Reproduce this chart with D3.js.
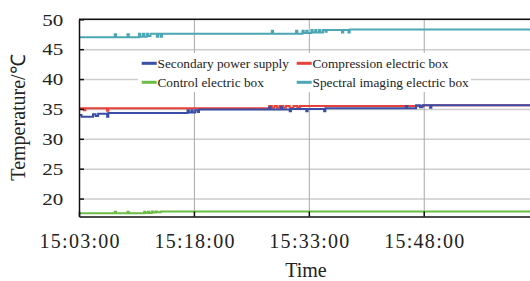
<!DOCTYPE html>
<html>
<head>
<meta charset="utf-8">
<script src="https://cdn.jsdelivr.net/npm/d3@7"></script>
<style>
body { margin: 0; background: #fff; }
svg { display: block; }
text { font-family: "Liberation Serif", "Times New Roman", serif; fill: #222; }
</style>
</head>
<body>
<div id="chart"></div>
<script>
// data
var seriesNames = ["Secondary power supply", "Compression electric box", "Control electric box", "Spectral imaging electric box"];
var seriesColors = ["#3a4ea6", "#e8403a", "#6cbd45", "#4ba7b3"];
var xTickLabels = ["15:03:00", "15:18:00", "15:33:00", "15:48:00"];
var yTickValues = [20, 25, 30, 35, 40, 45, 50];
var timeRange = ["15:03:00", "16:02:00"];

var secondaryTimes = ["15:03:00","15:03:20","15:04:50","15:05:10","15:05:30","15:06:40","15:06:50","15:17:10","15:17:20","15:17:40","15:17:50","15:18:10","15:18:30","15:18:40","15:27:50","15:28:00","15:29:20","15:29:30","15:30:30","15:30:40","15:32:40","15:32:50","15:35:00","15:35:10","15:45:40","15:45:50","15:47:00","15:47:30","15:47:50","15:48:50","15:49:00","16:02:00"];
var secondaryTemps = [34.0,33.7,34.1,33.8,34.2,33.7,34.3,34.8,34.4,34.8,34.4,34.8,34.5,34.9,35.3,34.9,35.3,34.9,34.6,35.0,34.6,35.0,34.6,35.1,35.5,35.1,35.6,35.3,35.6,35.2,35.6,35.6];

var compressionTimes = ["15:03:00","15:03:40","15:03:50","15:06:40","15:06:50","15:27:50","15:28:10","15:28:30","15:28:50","15:29:10","15:29:40","15:30:00","15:30:30","15:31:00","15:31:30","15:31:50","15:48:00","16:02:00"];
var compressionTemps = [35.1,34.8,35.1,34.7,35.1,35.5,35.2,35.5,35.2,35.5,35.2,35.5,35.2,35.5,35.3,35.5,35.6,35.6];

var controlTimes = ["15:03:00","15:07:40","15:07:50","15:09:20","15:09:30","15:11:30","15:11:40","15:12:00","15:12:10","15:12:30","15:12:40","15:13:00","15:13:10","15:13:40","16:02:00"];
var controlTemps = [17.55,17.8,17.55,17.8,17.55,17.8,17.6,17.8,17.6,17.85,17.65,17.85,17.7,17.85,17.85];

var spectralTimes = ["15:03:00","15:07:40","15:07:50","15:09:20","15:09:30","15:10:50","15:11:00","15:11:20","15:11:30","15:11:50","15:12:00","15:12:20","15:13:10","15:13:20","15:13:40","15:13:50","15:28:10","15:28:20","15:31:20","15:31:30","15:32:10","15:32:20","15:32:40","15:32:50","15:33:20","15:33:30","15:33:50","15:34:00","15:34:20","15:34:30","15:34:50","15:35:10","15:35:20","15:37:20","15:37:30","15:38:10","15:38:20","16:02:00"];
var spectralTemps = [47.0,47.5,47.0,47.5,47.0,47.6,47.1,47.6,47.1,47.6,47.2,47.6,47.1,47.6,47.1,47.6,48.1,47.6,48.1,47.6,48.1,47.7,48.1,47.7,48.2,47.8,48.2,47.8,48.2,47.8,48.2,47.9,48.2,47.8,48.2,47.8,48.3,48.3];

var parseTime = d3.timeParse("%H:%M:%S");

function zipSeries(times, temps) {
  return times.map(function(t, i) { return {time: parseTime(t), temp: temps[i]}; });
}

var series = [
  zipSeries(secondaryTimes, secondaryTemps),
  zipSeries(compressionTimes, compressionTemps),
  zipSeries(controlTimes, controlTemps),
  zipSeries(spectralTimes, spectralTemps)
];

var margin = {top: 19.3, right: -1, bottom: 64.5, left: 79};
var width = 530 - margin.left - margin.right;
var height = 281 - margin.top - margin.bottom;

var svg = d3.select("#chart")
  .append("svg")
  .attr("width", 530)
  .attr("height", 281)
  .append("g")
  .attr("transform", "translate(" + margin.left + "," + margin.top + ")");

var xScale = d3.scaleTime()
  .domain(timeRange.map(parseTime))
  .range([0, width]);

var yScale = d3.scaleLinear()
  .domain([17, 50])
  .range([height, 0]);

// grid
svg.append("g")
  .attr("class", "ygrid")
  .call(d3.axisLeft(yScale).tickValues(yTickValues).tickSize(-width).tickFormat(""))
  .call(function(g) { g.select(".domain").remove(); })
  .selectAll("line")
  .attr("stroke", "#cdcdcd")
  .attr("stroke-width", 1.4);

svg.append("g")
  .attr("class", "xgrid")
  .attr("transform", "translate(0," + height + ")")
  .call(d3.axisBottom(xScale).tickValues(xTickLabels.map(parseTime)).tickSize(-height).tickFormat(""))
  .call(function(g) { g.select(".domain").remove(); })
  .selectAll("line")
  .attr("stroke", "#a9a9a9")
  .attr("stroke-width", 1);

// lines
var line = d3.line()
  .curve(d3.curveStepAfter)
  .x(function(d) { return xScale(d.time); })
  .y(function(d) { return yScale(d.temp); });

var drawOrder = [2, 3, 1, 0];
drawOrder.forEach(function(i) {
  svg.append("path")
    .datum(series[i])
    .attr("fill", "none")
    .attr("stroke", seriesColors[i])
    .attr("stroke-width", 2)
    .attr("d", line);
});

// top border
svg.append("line")
  .attr("x1", 0).attr("x2", width)
  .attr("y1", yScale(50)).attr("y2", yScale(50))
  .attr("stroke", "#111")
  .attr("stroke-width", 1.5);

// axes
var xAxis = svg.append("g")
  .attr("transform", "translate(0," + height + ")")
  .call(d3.axisBottom(xScale)
    .tickValues(xTickLabels.map(parseTime))
    .tickFormat(d3.timeFormat("%H:%M:%S"))
    .tickSize(-5)
    .tickSizeOuter(0));
xAxis.select(".domain").attr("stroke", "#111").attr("stroke-width", 1.5);
xAxis.selectAll("line").attr("stroke", "#111").attr("stroke-width", 1.5);
xAxis.selectAll("text")
  .attr("y", 31)
  .attr("dy", 0)
  .attr("textLength", 80)
  .attr("lengthAdjust", "spacing")
  .style("font-size", "20px")
  .style("font-family", "'Liberation Serif', serif")
  .style("fill", "#222");

var yAxis = svg.append("g")
  .call(d3.axisLeft(yScale)
    .tickValues(yTickValues)
    .tickSize(-5)
    .tickSizeOuter(0));
yAxis.select(".domain").attr("stroke", "#111").attr("stroke-width", 1.5);
yAxis.selectAll("line").attr("stroke", "#111").attr("stroke-width", 1.5);
yAxis.selectAll("text")
  .attr("x", -15.7)
  .attr("dy", "0.34em")
  .attr("textLength", 21)
  .attr("lengthAdjust", "spacingAndGlyphs")
  .style("font-size", "17px")
  .style("font-family", "'Liberation Serif', serif")
  .style("fill", "#222");

// axis titles
svg.append("text")
  .attr("x", 306 - margin.left)
  .attr("y", 277.3 - margin.top)
  .attr("text-anchor", "middle")
  .text("Time")
  .style("font-size", "20px");

svg.append("text")
  .attr("transform", "translate(" + (25 - margin.left) + "," + (117.5 - margin.top) + ") rotate(-90)")
  .attr("text-anchor", "middle")
  .text("Temperature/℃")
  .style("font-size", "20px");

// legend
var legend = svg.append("g")
  .attr("transform", "translate(" + (138 - margin.left) + "," + (53 - margin.top) + ")");

legend.append("rect")
  .attr("width", 333)
  .attr("height", 39)
  .attr("fill", "#fff");

var legendPos = [[3.7, 10.3], [158.7, 10.3], [3.7, 29.3], [158.7, 29.3]];
seriesNames.forEach(function(name, i) {
  var item = legend.append("g")
    .attr("transform", "translate(" + legendPos[i][0] + "," + legendPos[i][1] + ")");
  item.append("line")
    .attr("x1", 0).attr("x2", 15)
    .attr("stroke", seriesColors[i])
    .attr("stroke-width", 3);
  item.append("text")
    .attr("x", 15.8)
    .attr("y", 4.2)
    .text(name)
    .style("font-size", "13.3px");
});
</script>
</body>
</html>
